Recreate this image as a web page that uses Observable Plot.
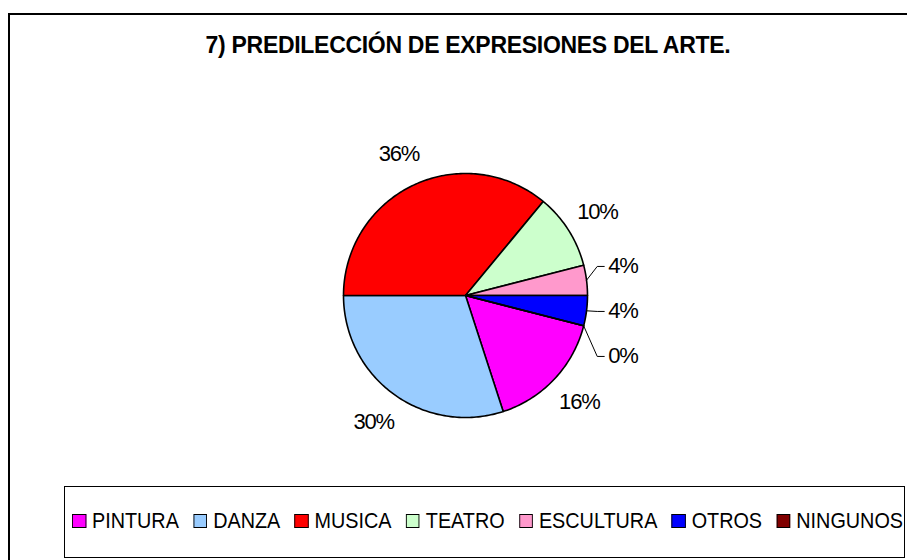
<!DOCTYPE html>
<html>
<head>
<meta charset="utf-8">
<script src="https://cdn.jsdelivr.net/npm/d3@7"></script>
<script src="https://cdn.jsdelivr.net/npm/@observablehq/plot@0.6"></script>
<style>
  html, body { margin: 0; padding: 0; background: #fff; overflow: hidden; }
  #wrap { position: relative; width: 907px; height: 560px; overflow: hidden; font-family: "Liberation Sans", Arial, sans-serif; }
  #frame { position: absolute; left: 8px; top: 13px; width: 920px; height: 580px; border-left: 2px solid #000; border-top: 2px solid #000; box-sizing: border-box; }
  #chart { position: absolute; left: 0; top: 0; }
  #title { position: absolute; left: 0; top: 34px; width: 936px; text-align: center; font-weight: bold; font-size: 23px; line-height: 23px; letter-spacing: -0.3px; color: #000; white-space: nowrap; }
  #legend { position: absolute; left: 64px; top: 486px; width: 841px; height: 72px; border: 1.5px solid #000; box-sizing: border-box; background: #fff; }
  #legend .row { position: absolute; left: 7px; top: 23px; height: 22px; display: flex; align-items: center; white-space: nowrap; transform: scaleX(0.9); transform-origin: 0 0; }
  #legend .item { display: flex; align-items: center; margin-right: 15.9px; }
  #legend .sw { width: 15.5px; height: 14px; border: 1.5px solid #000; box-sizing: border-box; margin-right: 6.7px; }
  #legend .lab { font-size: 22px; line-height: 22px; color: #000; }
</style>
</head>
<body>
<div id="wrap">
  <div id="frame"></div>
  <div id="chart"></div>
  <div id="title"></div>
  <div id="legend"><div class="row"></div></div>
</div>
<script>
const title = "7) PREDILECCIÓN DE EXPRESIONES DEL ARTE.";
const categories = ["PINTURA", "DANZA", "MUSICA", "TEATRO", "ESCULTURA", "OTROS", "NINGUNOS"];
const values = [16, 30, 36, 10, 4, 4, 0];
const labels = ["16%", "30%", "36%", "10%", "4%", "4%", "0%"];
const colors = ["#FF00FF", "#99CCFF", "#FF0000", "#CCFFCC", "#FF99CC", "#0000FF", "#800000"];

// layout
const cx = 465, cy = 295, R = 122;
const startDeg = 104.4;      // first slice angle (clockwise from north)
const labelR = 1.28;
const total = d3.sum(values);
const rad = d => d * Math.PI / 180;

// slices
const slices = [];
let acc = startDeg;
values.forEach((v, i) => {
  const span = v / total * 360;
  slices.push({name: categories[i], a0: acc, a1: acc + span, mid: acc + span / 2, frac: v / total, label: labels[i]});
  acc += span;
});

const polyPts = [];
for (const s of slices) {
  polyPts.push({name: s.name, x: 0, y: 0});
  const n = Math.max(2, Math.ceil(s.a1 - s.a0));
  for (let k = 0; k <= n; k++) {
    const a = rad(s.a0 + (s.a1 - s.a0) * k / n);
    polyPts.push({name: s.name, x: Math.sin(a), y: Math.cos(a)});
  }
  polyPts.push({name: s.name, x: 0, y: 0});
}

// labels
const bigLabels = slices.filter(s => s.frac >= 0.05).map(s => ({
  text: s.label, x: labelR * Math.sin(rad(s.mid)), y: labelR * Math.cos(rad(s.mid))
}));
let small = slices.filter(s => s.frac < 0.05).map(s => ({
  text: s.label, mid: s.mid, y0: labelR * Math.cos(rad(s.mid))
}));
small.sort((a, b) => b.y0 - a.y0);
const gap = 45 / R;
const mean0 = d3.mean(small, d => d.y0);
small.forEach((d, i) => { d.y = i === 0 ? d.y0 : Math.min(d.y0, small[i - 1].y - gap); });
const shift = mean0 - d3.mean(small, d => d.y) - 3 / R;
small.forEach(d => { d.y += shift; d.x = 1.17; });

const leaderPts = [];
small.forEach((d, i) => {
  const a = rad(d.mid);
  leaderPts.push({k: i, x: Math.sin(a), y: Math.cos(a)});
  leaderPts.push({k: i, x: d.x - 11 / R, y: d.y});
  leaderPts.push({k: i, x: d.x - 4 / R, y: d.y});
});

const font = "Liberation Sans, Arial, sans-serif";
const chart = Plot.plot({
  width: 907, height: 560, margin: 0,
  x: {domain: [-1, 1], range: [cx - R, cx + R], axis: null},
  y: {domain: [1, -1], range: [cy - R, cy + R], axis: null},
  color: {domain: categories, range: colors},
  style: {background: "transparent", overflow: "visible"},
  marks: [
    Plot.line(polyPts, {x: "x", y: "y", z: "name", fill: "name", stroke: "#000", strokeWidth: 1.6, strokeLinejoin: "round"}),
    Plot.line(leaderPts, {x: "x", y: "y", z: "k", stroke: "#000", strokeWidth: 1}),
    Plot.text(bigLabels, {x: "x", y: "y", text: "text", fontSize: 22, fontFamily: font, fill: "#000"}),
    Plot.text(small, {x: "x", y: "y", text: "text", textAnchor: "start", fontSize: 22, fontFamily: font, fill: "#000"})
  ]
});
d3.select(chart).selectAll("text").attr("letter-spacing", "-1.2px");
document.getElementById("chart").appendChild(chart);
document.getElementById("title").textContent = title;

const row = document.querySelector("#legend .row");
categories.forEach((c, i) => {
  const it = document.createElement("div");
  it.className = "item";
  const sw = document.createElement("div");
  sw.className = "sw";
  sw.style.background = colors[i];
  const lb = document.createElement("span");
  lb.className = "lab";
  lb.textContent = c;
  it.appendChild(sw); it.appendChild(lb);
  row.appendChild(it);
});
</script>
</body>
</html>
